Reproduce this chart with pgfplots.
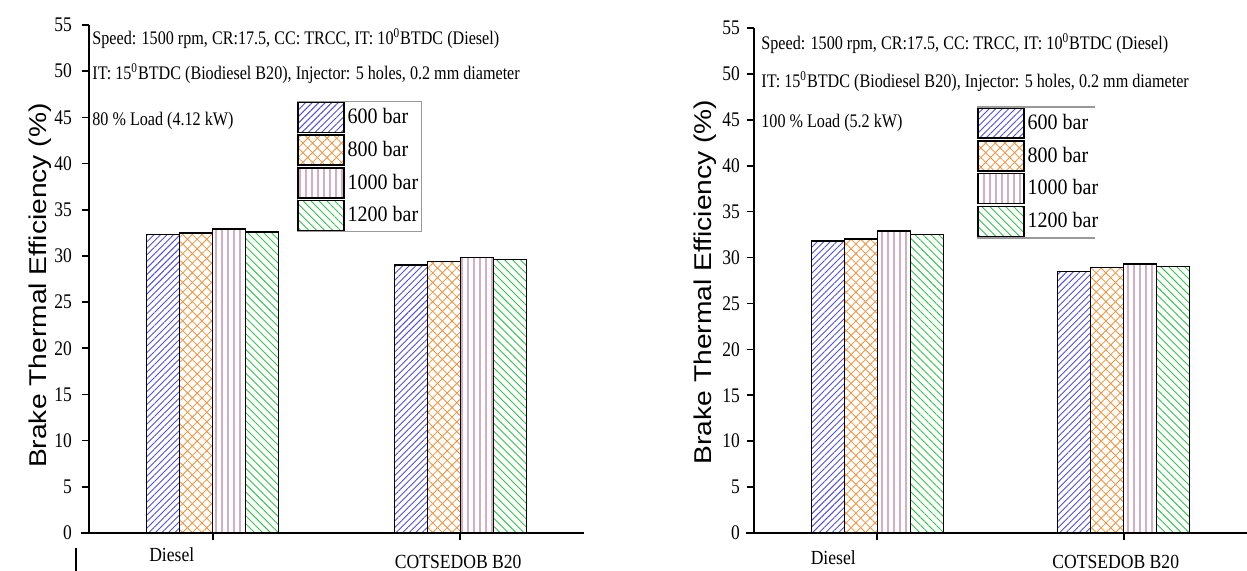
\documentclass[border=0pt]{standalone}
\usepackage{fontspec}
\setmainfont{Liberation Serif}
\setsansfont{Liberation Sans}
\newfontfamily\condserif[FakeStretch=0.84]{Liberation Serif}
\newfontfamily\legserif[FakeStretch=0.91]{Liberation Serif}
\newfontfamily\catserif[FakeStretch=0.88]{Liberation Serif}
\usepackage{pgfplots}
\pgfplotsset{compat=1.18}
\usepackage{pgfplotstable}
\usetikzlibrary{patterns.meta}

\definecolor{cblue}{RGB}{80,80,210}
\definecolor{corange}{RGB}{238,145,60}
\definecolor{cmaroon}{RGB}{150,55,100}
\definecolor{cgreen}{RGB}{50,195,75}

% Brake thermal efficiency (%) at 80 % load
\pgfplotstableread{
cat p600 p800 p1000 p1200
0   32.3 32.5 32.9  32.6
1   29.0 29.4 29.8  29.6
}\loadeighty
% Brake thermal efficiency (%) at 100 % load
\pgfplotstableread{
cat p600 p800 p1000 p1200
0   31.8 32.0 32.9  32.5
1   28.5 28.9 29.3  29.0
}\loadfull

\pgfplotsset{
  bteaxis/.style={
    scale only axis,
    ybar=0pt, bar width=16.5pt,
    ymin=0, ymax=55, ytick={0,5,...,55},
    xmin=-0.5, xmax=1.5, xtick={0,1},
    axis x line=bottom, axis y line=left,
    axis line style={-},
    x axis line style={line width=1.3pt, shorten <=-4pt},
    y axis line style={line width=0.9pt},
    tick align=outside,
    major tick length=3.5pt,
    tick style={black, line width=0.8pt},
    yticklabel style={font=\condserif\fontsize{10.4}{12}\selectfont},
    xticklabel style={font=\catserif\fontsize{10}{12}\selectfont, anchor=base, yshift=-11pt},
    /pgf/number format/assume math mode=true,
    ylabel={\scalebox{1}[0.86]{Brake Thermal Efficiency (\%)}},
    legend cell align=left,
    legend style={font=\legserif\fontsize{11}{12}\selectfont,
      inner sep=0pt, row sep=0.7pt, column sep=0pt,
      nodes={inner sep=1.5pt}},
  },
  patch/.style={legend image code/.code={\draw[##1] (0pt,-7.5pt) rectangle (23pt,7.5pt);}},
  s600/.style={patch, draw=black, line width=0.7pt,
    pattern={Lines[angle=45,distance=2.3pt,line width=0.45pt]}, pattern color=cblue},
  s800/.style={patch, draw=black, line width=0.7pt,
    pattern={Lines[angle=45,distance=3.4pt,line width=0.4pt]}, pattern color=corange,
    postaction={pattern={Lines[angle=-45,distance=3.4pt,line width=0.4pt]}, pattern color=corange}},
  s1000/.style={patch, draw=black, line width=0.7pt,
    pattern={Lines[angle=90,distance=3pt,line width=0.55pt]}, pattern color=cmaroon!40},
  s1200/.style={patch, draw=black, line width=0.7pt,
    pattern={Lines[angle=-45,distance=2.8pt,line width=0.45pt]}, pattern color=cgreen},
}

\begin{document}
\begin{tikzpicture}
\useasboundingbox (0,0) rectangle (623.5pt,285.5pt);

% 80 % load
\begin{axis}[bteaxis,
  at={(44.5pt,19pt)}, anchor=south west,
  width=247.5pt, height=254pt,
  yticklabel style={xshift=-1.5pt},
  xticklabels={\makebox[0pt]{\hspace*{-41pt}Diesel},
               \makebox[0pt]{\hspace*{-2pt}\raisebox{-3.5pt}{COTSEDOB B20}}},
  ylabel style={at={(axis description cs:-0.099,0.487)}, anchor=center,
    font=\sffamily\fontsize{14.1}{16}\selectfont},
  legend style={at={(axis description cs:0.42,0.85)}, anchor=north west, draw=gray!80},
]
\addplot[s600]  table[x=cat, y=p600]  {\loadeighty};
\addplot[s800]  table[x=cat, y=p800]  {\loadeighty};
\addplot[s1000] table[x=cat, y=p1000] {\loadeighty};
\addplot[s1200] table[x=cat, y=p1200] {\loadeighty};
\legend{600 bar, 800 bar, 1000 bar, 1200 bar}
\end{axis}

% 100 % load
\begin{axis}[bteaxis,
  at={(377pt,19pt)}, anchor=south west,
  width=246.5pt, height=252.5pt,
  yticklabel style={xshift=0pt},
  xticklabels={\makebox[0pt]{\hspace*{-44pt}\raisebox{-1.5pt}{Diesel}},
               \makebox[0pt]{\hspace*{-8pt}\raisebox{-3.5pt}{COTSEDOB B20}}},
  ylabel style={at={(axis description cs:-0.0994,0.497)}, anchor=center,
    font=\sffamily\fontsize{14.1}{16}\selectfont},
  legend style={at={(axis description cs:0.452,0.8436)}, anchor=north west, draw=none},
]
\addplot[s600]  table[x=cat, y=p600]  {\loadfull};
\addplot[s800]  table[x=cat, y=p800]  {\loadfull};
\addplot[s1000] table[x=cat, y=p1000] {\loadfull};
\addplot[s1200] table[x=cat, y=p1200] {\loadfull};
\legend{600 bar, 800 bar, 1000 bar, 1200 bar}
\end{axis}

% test conditions
\begin{scope}[every node/.style={anchor=base west, inner sep=0pt,
    font=\condserif\fontsize{9.6}{11}\selectfont}]
\node at (46pt,263.3pt) {Speed: 1500 rpm, CR:17.5, CC: TRCC, IT: 10\textsuperscript{0}BTDC (Diesel)};
\node at (46pt,245.7pt) {IT: 15\textsuperscript{0}BTDC (Biodiesel B20), Injector: 5 holes, 0.2 mm diameter};
\node at (46pt,222.5pt) {80 \% Load (4.12 kW)};
\node at (380.5pt,260.5pt) {Speed: 1500 rpm, CR:17.5, CC: TRCC, IT: 10\textsuperscript{0}BTDC (Diesel)};
\node at (380.5pt,241.5pt) {IT: 15\textsuperscript{0}BTDC (Biodiesel B20), Injector: 5 holes, 0.2 mm diameter};
\node at (380.5pt,221.5pt) {100 \% Load (5.2 kW)};
\end{scope}

% rules above and below the second legend
\draw[gray!80, line width=0.6pt] (488.5pt,232pt) -- (547.5pt,232pt);
\draw[gray!80, line width=0.6pt] (488.5pt,166.5pt) -- (547.5pt,166.5pt);
% edge mark at the lower left
\draw[line width=0.8pt] (38pt,0pt) -- (38pt,11.5pt);
\end{tikzpicture}
\end{document}
